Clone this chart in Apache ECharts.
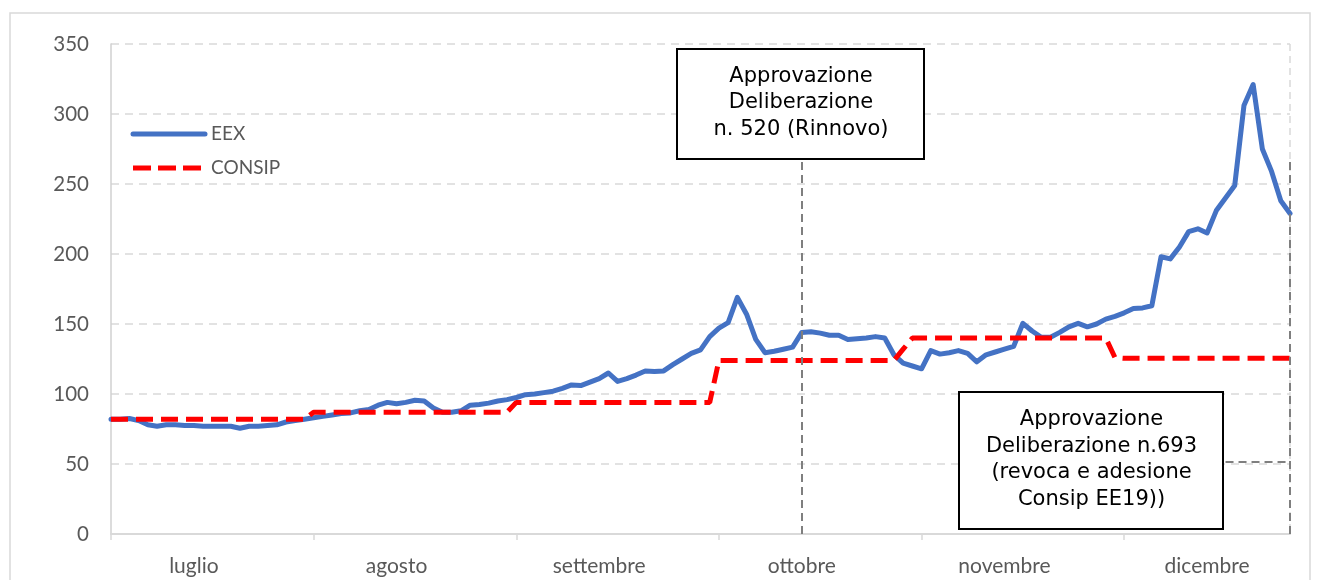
<!DOCTYPE html>
<html>
<head>
<meta charset="utf-8">
<script src="https://cdn.jsdelivr.net/npm/echarts@6/dist/echarts.min.js"></script>
<style>
  html, body { margin: 0; padding: 0; background: #ffffff; }
  #chart { width: 1319px; height: 580px; }
</style>
</head>
<body>
<div id="chart"></div>
<script>
// Months on the x axis and number of daily quotations in each
const months = ['luglio', 'agosto', 'settembre', 'ottobre', 'novembre', 'dicembre'];
const daysPerMonth = [22, 22, 22, 22, 22, 19];

// EEX daily price (€/MWh)
const eex = [
  82, 82, 82.5, 81, 78, 77, 78, 78, 77.5, 77.5, 77, 77, 77, 77, 75.5, 77, 77, 77.5, 78, 80, 81, 82,
  83, 84, 85, 86, 86.5, 88, 89, 92, 94, 93, 94, 95.5, 95, 90, 87, 87, 88, 92, 92.5, 93.5, 95, 96,
  97.5, 99.5, 100, 101, 102, 104, 106.5, 106, 108.5, 111, 115, 109, 111, 113.5, 116.5, 116, 116.5, 121, 125, 129, 131.5, 141,
  147, 151, 169, 157, 139, 129.5, 130.5, 132, 133.5, 144, 144.5, 143.5, 142, 142, 139, 139.5, 140, 141, 140, 128, 122, 120,
  118, 131, 128.5, 129.5, 131, 129, 123, 128, 130, 132, 134, 150.5, 145, 140.5, 140.5, 144, 148, 150.5, 148, 150, 153.5, 155.5,
  158, 161, 161.5, 163, 198, 196.5, 205, 216, 218, 215, 231, 240, 249, 306, 321, 275, 259, 238, 229
];

// CONSIP reference price (€/MWh)
const consip = [
  82, 82, 82, 82, 82, 82, 82, 82, 82, 82, 82, 82, 82, 82, 82, 82, 82, 82, 82, 82, 82, 82,
  87, 87, 87, 87, 87, 87, 87, 87, 87, 87, 87, 87, 87, 87, 87, 87, 87, 87, 87, 87, 87, 87,
  94, 94, 94, 94, 94, 94, 94, 94, 94, 94, 94, 94, 94, 94, 94, 94, 94, 94, 94, 94, 94, 94,
  124, 124, 124, 124, 124, 124, 124, 124, 124, 124, 124, 124, 124, 124, 124, 124, 124, 124, 124, 124, 132, 140,
  140, 140, 140, 140, 140, 140, 140, 140, 140, 140, 140, 140, 140, 140, 140, 140, 140, 140, 140, 140, 140, 126,
  125.5, 125.5, 125.5, 125.5, 125.5, 125.5, 125.5, 125.5, 125.5, 125.5, 125.5, 125.5, 125.5, 125.5, 125.5, 125.5, 125.5, 125.5, 125.5
];

// Y axis scale
const yMin = 0, yMax = 350, yStep = 50;

// Event markers: category index and the value the guide line reaches
const eventRinnovo = { index: 75, top: 268 };
const eventRevoca = { index: 128, top: 269, connectorFrom: 121, connectorValue: 51.5 };

const boxText1 = ['Approvazione', 'Deliberazione', 'n. 520 (Rinnovo)'];
const boxText2 = ['Approvazione', 'Deliberazione n.693', '(revoca e adesione', 'Consip EE19))'];

const seriesNames = ['EEX', 'CONSIP'];
const seriesColors = ['#4472c4', '#ff0000'];

// Build day categories ("1 luglio", "2 luglio", ...)
const categories = [];
const monthStart = [];
months.forEach((m, k) => {
  monthStart.push(categories.length);
  for (let d = 1; d <= daysPerMonth[k]; d++) categories.push(d + ' ' + m);
});
const lastIndex = categories.length - 1;
const labelOffset = 9;

const chart = echarts.init(document.getElementById('chart'), null, { renderer: 'canvas' });

const guideStyle = { color: '#7f7f7f', width: 2, type: [8, 5] };
const eexLine = { color: seriesColors[0], width: 5, cap: 'round', join: 'round' };
const consipLine = { color: seriesColors[1], width: 5, type: [17, 8] };

// Legend keys drawn as plain line samples with their names
function legendEntry(row, name, stroke, dash) {
  const y = 134 + row * 34;
  return [
    { type: 'line', z: 50, silent: true,
      shape: { x1: 133, y1: y, x2: 205, y2: y },
      style: { stroke: stroke, lineWidth: 5, lineCap: dash ? 'butt' : 'round', lineDash: dash || null } },
    { type: 'text', z: 50, silent: true, x: 211, y: y,
      style: { text: name, fontFamily: 'Lato', fontSize: 19, fill: '#595959', verticalAlign: 'middle', align: 'left' } }
  ];
}

// Framed note with centred multi-line text
function noteBox(x, y, w, h, lines, lineHeight, dy) {
  return [
    { type: 'rect', z: 100, silent: true, shape: { x: x, y: y, width: w, height: h },
      style: { fill: '#ffffff', stroke: '#000000', lineWidth: 2 } },
    { type: 'text', z: 101, silent: true, x: x + w / 2 + 0.5, y: y + h / 2 + dy,
      style: { text: lines.join('\n'), fontFamily: 'DejaVu Sans', fontSize: 21, lineHeight: lineHeight,
               fill: '#000000', align: 'center', verticalAlign: 'middle' } }
  ];
}

chart.setOption({
  animation: false,
  backgroundColor: '#ffffff',
  grid: { left: 111, right: 29, top: 44, bottom: 46, containLabel: false },
  xAxis: {
    type: 'category',
    data: categories,
    boundaryGap: false,
    axisLine: { show: true, lineStyle: { color: '#d9d9d9', width: 2 } },
    axisTick: {
      show: true, length: 6,
      interval: (i) => monthStart.indexOf(i) >= 0,
      lineStyle: { color: '#d9d9d9', width: 1.5 }
    },
    axisLabel: {
      interval: (i) => monthStart.some((s) => i === s + labelOffset),
      formatter: (v) => v.split(' ')[1],
      fontFamily: 'Lato', fontSize: 21, color: '#595959', margin: 22
    },
    splitLine: {
      show: true,
      interval: (i) => i === lastIndex,
      lineStyle: { color: '#d9d9d9', width: 1.5, type: [7, 5] }
    }
  },
  yAxis: {
    type: 'value',
    min: yMin, max: yMax, interval: yStep,
    axisLine: { show: true, lineStyle: { color: '#d0d0d0', width: 1.5 } },
    axisTick: { show: false },
    axisLabel: { fontFamily: 'Lato', fontSize: 20.5, color: '#595959', margin: 22 },
    splitLine: { show: true, lineStyle: { color: '#d9d9d9', width: 1.5, type: [8, 6] } }
  },
  series: [
    {
      name: seriesNames[0], type: 'line', data: eex,
      symbol: 'none', smooth: false, z: 3,
      lineStyle: eexLine,
      itemStyle: { color: seriesColors[0] },
      markLine: {
        silent: true, symbol: 'none', label: { show: false },
        lineStyle: guideStyle,
        data: [
          [{ coord: [categories[eventRinnovo.index], yMin] }, { coord: [categories[eventRinnovo.index], eventRinnovo.top] }],
          [{ coord: [categories[eventRevoca.index], yMin] }, { coord: [categories[eventRevoca.index], eventRevoca.top] }],
          [{ coord: [categories[eventRevoca.connectorFrom], eventRevoca.connectorValue] }, { coord: [categories[eventRevoca.index], eventRevoca.connectorValue] }]
        ]
      }
    },
    {
      name: seriesNames[1], type: 'line', data: consip,
      symbol: 'none', smooth: false, z: 4,
      lineStyle: consipLine,
      itemStyle: { color: seriesColors[1] }
    }
  ],
  graphic: [
    {
      type: 'rect', z: 0, silent: true,
      shape: { x: 10, y: 13, width: 1300, height: 580 },
      style: { fill: 'none', stroke: '#d9d9d9', lineWidth: 1.5 }
    },
    ...legendEntry(0, seriesNames[0], seriesColors[0], null),
    ...legendEntry(1, seriesNames[1], seriesColors[1], [18, 7]),
    ...noteBox(677, 49, 247, 110, boxText1, 26.5, -1),
    ...noteBox(959, 392, 264, 137, boxText2, 26.5, -1)
  ]
});
</script>
</body>
</html>
